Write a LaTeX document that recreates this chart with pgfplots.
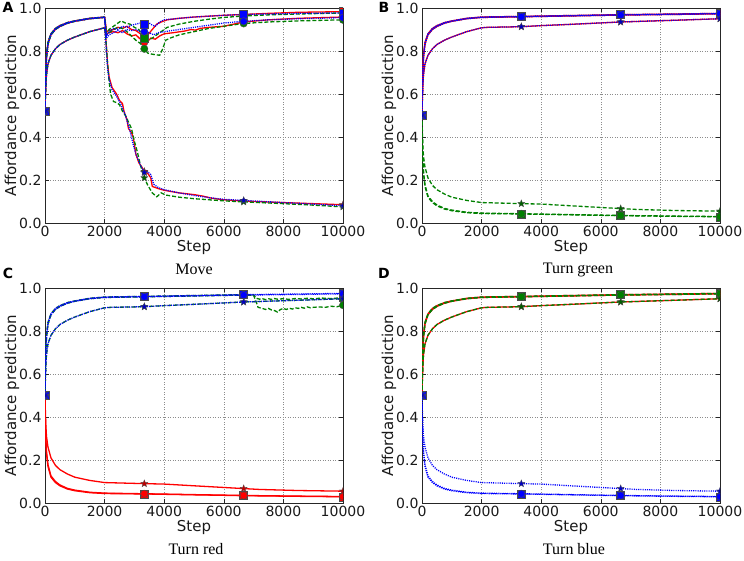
\documentclass[border=0pt]{standalone}
\usepackage{fontspec}
\setmainfont{DejaVu Sans}
\newfontfamily\titlefont{Liberation Serif}
\usepackage{pgfplots}
\usepackage{pgfplotstable}
\pgfplotsset{compat=1.18}
\definecolor{mred}{rgb}{1,0,0}
\definecolor{mgreen}{rgb}{0,0.5,0}
\definecolor{mblue}{rgb}{0,0,1}

\pgfdeclareplotmark{fstar}{%
  \pgfpathmoveto{\pgfpointpolar{90}{\pgfplotmarksize}}%
  \pgfpathlineto{\pgfpointpolar{126}{0.42\pgfplotmarksize}}%
  \pgfpathlineto{\pgfpointpolar{162}{\pgfplotmarksize}}%
  \pgfpathlineto{\pgfpointpolar{198}{0.42\pgfplotmarksize}}%
  \pgfpathlineto{\pgfpointpolar{234}{\pgfplotmarksize}}%
  \pgfpathlineto{\pgfpointpolar{270}{0.42\pgfplotmarksize}}%
  \pgfpathlineto{\pgfpointpolar{306}{\pgfplotmarksize}}%
  \pgfpathlineto{\pgfpointpolar{342}{0.42\pgfplotmarksize}}%
  \pgfpathlineto{\pgfpointpolar{18}{\pgfplotmarksize}}%
  \pgfpathlineto{\pgfpointpolar{54}{0.42\pgfplotmarksize}}%
  \pgfpathclose
  \pgfusepathqfillstroke
}

% ---------- generic curves (panels B, C, D) ----------
\pgfplotstableread{
x y
0 0.5
10 0.6
25 0.7
50 0.78
100 0.84
200 0.88
350 0.905
500 0.918
750 0.932
1000 0.94
1500 0.952
2000 0.958
3333 0.961
5000 0.965
6667 0.969
8500 0.972
10000 0.975
}\UPsq
\pgfplotstableread{
x y
0 0.5
10 0.59
25 0.69
50 0.77
100 0.832
200 0.875
350 0.9
500 0.914
750 0.929
1000 0.938
1500 0.95
2000 0.956
3333 0.959
5000 0.963
6667 0.967
8500 0.97
10000 0.973
}\UPci
\pgfplotstableread{
x y
0 0.5
10 0.56
25 0.63
50 0.69
100 0.74
200 0.78
350 0.81
500 0.83
750 0.85
1000 0.865
1500 0.89
2000 0.908
2200 0.91
3333 0.913
4000 0.918
5000 0.924
6667 0.935
8500 0.943
10000 0.95
}\UPst
\pgfplotstableread{
x y
0 0.5
10 0.4
25 0.3
50 0.23
100 0.17
200 0.12
350 0.095
500 0.08
750 0.065
1000 0.057
1500 0.048
2000 0.044
3333 0.042
5000 0.038
6667 0.034
8500 0.031
10000 0.029
}\DNsq
\pgfplotstableread{
x y
0 0.5
10 0.41
25 0.31
50 0.24
100 0.178
200 0.126
350 0.1
500 0.084
750 0.068
1000 0.06
1500 0.05
2000 0.046
3333 0.043
5000 0.039
6667 0.035
8500 0.032
10000 0.03
}\DNci
\pgfplotstableread{
x y
0 0.5
10 0.44
25 0.37
50 0.31
100 0.26
200 0.21
350 0.175
500 0.155
750 0.135
1000 0.12
1500 0.105
2000 0.095
3333 0.09
4000 0.088
5000 0.08
6667 0.067
7200 0.063
8500 0.058
10000 0.055
}\DNst
% green curves in panel C
\pgfplotstableread{
x y
0 0.5
10 0.6
25 0.7
50 0.78
100 0.84
200 0.88
350 0.905
500 0.918
750 0.932
1000 0.94
1500 0.952
2000 0.958
3333 0.961
5000 0.965
6667 0.969
7000 0.968
7100 0.952
7200 0.948
7300 0.95
7400 0.946
7500 0.95
7600 0.947
7700 0.951
7800 0.948
8000 0.95
8200 0.947
8400 0.951
8600 0.949
8800 0.952
9000 0.95
9300 0.953
9600 0.951
10000 0.955
}\GCsq
\pgfplotstableread{
x y
0 0.5
10 0.59
25 0.69
50 0.77
100 0.832
200 0.875
350 0.9
500 0.914
750 0.929
1000 0.938
1500 0.95
2000 0.956
3333 0.959
5000 0.963
6667 0.967
7000 0.966
7100 0.93
7150 0.91
7300 0.905
7400 0.9
7500 0.905
7600 0.898
7700 0.895
7800 0.888
7900 0.9
8000 0.905
8100 0.9
8200 0.906
8300 0.902
8400 0.908
8500 0.905
8600 0.91
8700 0.906
8800 0.912
8900 0.908
9000 0.91
9200 0.912
9400 0.91
9600 0.915
9800 0.913
10000 0.92
}\GCci

% ---------- panel A curves ----------
\pgfplotstableread{
x y
0 0.52
10 0.61
25 0.7
50 0.78
100 0.84
200 0.88
350 0.905
500 0.918
750 0.932
1000 0.94
1500 0.952
2000 0.958
2030 0.93
2060 0.89
2150 0.895
2300 0.9
2450 0.91
2600 0.905
2750 0.915
2900 0.9
3050 0.895
3200 0.88
3333 0.865
3450 0.875
3600 0.9
3750 0.925
3900 0.935
4100 0.945
4500 0.952
5000 0.958
5500 0.962
6000 0.966
6667 0.97
7500 0.975
8500 0.98
10000 0.983
}\ARsq
\pgfplotstableread{
x y
0 0.52
10 0.6
25 0.69
50 0.77
100 0.832
200 0.875
350 0.9
500 0.914
750 0.929
1000 0.938
1500 0.95
2000 0.956
2030 0.92
2060 0.88
2150 0.885
2300 0.89
2450 0.885
2600 0.895
2750 0.88
2900 0.87
3050 0.875
3200 0.855
3333 0.84
3450 0.845
3550 0.86
3700 0.855
3850 0.87
4000 0.88
4300 0.885
4700 0.893
4900 0.9
5050 0.897
5200 0.905
5500 0.91
6000 0.915
6667 0.935
7500 0.945
8500 0.952
10000 0.958
}\ARci
\pgfplotstableread{
x y
0 0.52
10 0.57
25 0.63
50 0.69
100 0.74
200 0.78
350 0.81
500 0.83
750 0.85
1000 0.865
1500 0.89
2000 0.908
2030 0.88
2060 0.82
2100 0.74
2150 0.68
2250 0.63
2400 0.6
2500 0.57
2600 0.555
2650 0.52
2750 0.48
2800 0.44
2900 0.42
2960 0.4
3050 0.32
3150 0.28
3250 0.26
3333 0.24
3450 0.23
3550 0.21
3600 0.17
3800 0.16
4000 0.152
4500 0.14
5000 0.132
5300 0.125
5600 0.115
6000 0.108
6667 0.102
8000 0.095
9000 0.09
10000 0.085
}\ARst
\pgfplotstableread{
x y
0 0.52
10 0.61
25 0.7
50 0.78
100 0.84
200 0.88
350 0.905
500 0.918
750 0.932
1000 0.94
1500 0.952
2000 0.958
2030 0.92
2060 0.88
2150 0.9
2300 0.915
2450 0.93
2550 0.94
2700 0.93
2850 0.925
3000 0.91
3150 0.9
3250 0.875
3333 0.86
3450 0.85
3600 0.86
3750 0.875
3900 0.89
4100 0.91
4500 0.925
5000 0.938
5500 0.948
6000 0.956
6667 0.963
7500 0.968
8500 0.972
10000 0.977
}\AGsq
\pgfplotstableread{
x y
0 0.52
10 0.6
25 0.69
50 0.77
100 0.832
200 0.875
350 0.9
500 0.914
750 0.929
1000 0.938
1500 0.95
2000 0.956
2030 0.92
2060 0.875
2150 0.885
2300 0.9
2450 0.91
2600 0.905
2750 0.89
2900 0.87
3050 0.85
3200 0.835
3333 0.81
3450 0.79
3600 0.785
3750 0.782
3850 0.78
3950 0.81
4050 0.85
4200 0.86
4500 0.875
5000 0.89
5500 0.905
6000 0.915
6667 0.928
7500 0.935
8500 0.94
10000 0.945
}\AGci
\pgfplotstableread{
x y
0 0.52
10 0.57
25 0.63
50 0.69
100 0.74
200 0.78
350 0.81
500 0.83
750 0.85
1000 0.865
1500 0.89
2000 0.908
2030 0.88
2060 0.82
2100 0.74
2150 0.66
2200 0.6
2300 0.565
2400 0.56
2500 0.55
2600 0.52
2700 0.5
2800 0.47
2900 0.44
3000 0.38
3100 0.33
3200 0.27
3333 0.21
3450 0.175
3600 0.14
3750 0.122
3900 0.14
4050 0.13
4500 0.12
5000 0.113
5500 0.108
6000 0.103
6667 0.098
8000 0.09
9000 0.083
10000 0.075
}\AGst
\pgfplotstableread{
x y
0 0.52
10 0.61
25 0.7
50 0.78
100 0.84
200 0.88
350 0.905
500 0.918
750 0.932
1000 0.94
1500 0.952
2000 0.958
2030 0.91
2060 0.87
2150 0.89
2300 0.905
2450 0.9
2600 0.915
2750 0.91
2900 0.92
3050 0.925
3200 0.93
3333 0.925
3450 0.935
3600 0.92
3700 0.915
3850 0.935
4000 0.945
4500 0.952
5000 0.958
5500 0.962
6000 0.966
6667 0.97
7500 0.972
8500 0.975
10000 0.977
}\ABsq
\pgfplotstableread{
x y
0 0.52
10 0.6
25 0.69
50 0.77
100 0.832
200 0.875
350 0.9
500 0.914
750 0.929
1000 0.938
1500 0.95
2000 0.956
2030 0.9
2060 0.86
2150 0.875
2300 0.885
2450 0.895
2600 0.885
2750 0.9
2900 0.895
3050 0.9
3200 0.89
3333 0.89
3500 0.885
3650 0.875
3800 0.885
4000 0.89
4500 0.9
5000 0.91
5500 0.92
6000 0.93
6667 0.938
7500 0.945
8500 0.95
10000 0.955
}\ABci
\pgfplotstableread{
x y
0 0.52
10 0.57
25 0.63
50 0.69
100 0.74
200 0.78
350 0.81
500 0.83
750 0.85
1000 0.865
1500 0.89
2000 0.908
2030 0.87
2060 0.8
2100 0.72
2150 0.67
2250 0.62
2400 0.59
2550 0.55
2700 0.5
2850 0.43
2950 0.37
3050 0.32
3200 0.27
3333 0.235
3450 0.238
3550 0.225
3650 0.18
3800 0.165
4000 0.155
4500 0.14
5000 0.128
5500 0.118
6000 0.11
6667 0.105
8000 0.095
9000 0.088
10000 0.08
}\ABst

\pgfplotsset{
  panel/.style={
    scale only axis, width=298pt, height=215pt, anchor=south west,
    xmin=0, xmax=10000, ymin=0, ymax=1,
    xtick={0,2000,4000,6000,8000,10000},
    ytick={0,0.2,0.4,0.6,0.8,1.0},
    scaled x ticks=false,
    xticklabel style={/pgf/number format/1000 sep={}},
    yticklabel style={/pgf/number format/fixed, /pgf/number format/fixed zerofill, /pgf/number format/precision=1},
    /pgf/number format/assume math mode=true,
    tick label style={font=\fontsize{14}{15}\selectfont, text=black!90},
    xlabel={Step}, ylabel={Affordance prediction},
    label style={font=\fontsize{15}{17}\selectfont, text=black!90},
    xlabel style={at={(axis description cs:0.5,-0.116)}, anchor=center},
    ylabel style={at={(axis description cs:-0.111,0.5)}, anchor=center},
    grid=major,
    major grid style={black!45, dash pattern=on 1pt off 1.5pt, line width=0.5pt},
    axis line style={black!85, line width=0.8pt},
    tick align=inside, major tick length=4pt,
    tick style={black!85, line width=0.6pt},
    clip marker paths=true,
  },
  rl/.style={mred, solid, line width=1.3pt},
  gl/.style={mgreen, dash pattern=on 4pt off 2pt, line width=1.3pt},
  bl/.style={mblue, dash pattern=on 1.1pt off 1.1pt, line width=1.3pt},
  msq/.style={only marks, mark=square*, mark size=4pt, mark options={solid, fill=#1, draw=black!70, line width=0.4pt}},
  mci/.style={only marks, mark=*, mark size=3.7pt, mark options={solid, fill=#1, draw=black!70, line width=0.4pt}},
  mst/.style={only marks, mark=fstar, mark size=3.8pt, mark options={solid, fill=#1!75!black, draw=black!70, line width=0.3pt}},
}

% line style, table, mark style, marker y at 0, 3333, 6667, 10000
\newcommand{\ser}[7]{%
  \addplot[#1] table {#2};
  \addplot[#3] coordinates {(0,#4) (3333,#5) (6667,#6) (10000,#7)};
}

\begin{document}
\begin{tikzpicture}
\path[use as bounding box] (0,0) rectangle (744pt,561pt);

% ---------------- A : Move ----------------
\begin{axis}[panel, at={(45pt,338pt)}]
\ser{rl}{\ARsq}{msq=mred}{0.52}{0.865}{0.97}{0.983}
\ser{rl}{\ARci}{mci=mred}{0.52}{0.84}{0.935}{0.958}
\ser{rl}{\ARst}{mst=mred}{0.52}{0.24}{0.102}{0.085}
\ser{gl}{\AGsq}{msq=mgreen}{0.52}{0.86}{0.963}{0.977}
\ser{gl}{\AGci}{mci=mgreen}{0.52}{0.81}{0.928}{0.945}
\ser{gl}{\AGst}{mst=mgreen}{0.52}{0.21}{0.098}{0.075}
\ser{bl}{\ABsq}{msq=mblue}{0.52}{0.925}{0.97}{0.977}
\ser{bl}{\ABci}{mci=mblue}{0.52}{0.89}{0.938}{0.955}
\ser{bl}{\ABst}{mst=mblue}{0.52}{0.235}{0.105}{0.08}
\end{axis}

% ---------------- B : Turn green ----------------
\begin{axis}[panel, at={(422pt,338pt)}]
\ser{rl}{\UPsq}{msq=mred}{0.5}{0.961}{0.969}{0.975}
\ser{rl}{\UPci}{mci=mred}{0.5}{0.959}{0.967}{0.973}
\ser{rl}{\UPst}{mst=mred}{0.5}{0.913}{0.935}{0.95}
\ser{gl}{\DNsq}{msq=mgreen}{0.5}{0.042}{0.034}{0.029}
\ser{gl}{\DNci}{mci=mgreen}{0.5}{0.043}{0.035}{0.03}
\ser{gl}{\DNst}{mst=mgreen}{0.5}{0.09}{0.067}{0.055}
\ser{bl}{\UPsq}{msq=mblue}{0.5}{0.961}{0.969}{0.975}
\ser{bl}{\UPci}{mci=mblue}{0.5}{0.959}{0.967}{0.973}
\ser{bl}{\UPst}{mst=mblue}{0.5}{0.913}{0.935}{0.95}
\end{axis}

% ---------------- C : Turn red ----------------
\begin{axis}[panel, at={(45pt,58pt)}]
\ser{rl}{\DNsq}{msq=mred}{0.5}{0.042}{0.034}{0.029}
\ser{rl}{\DNci}{mci=mred}{0.5}{0.043}{0.035}{0.03}
\ser{rl}{\DNst}{mst=mred}{0.5}{0.09}{0.067}{0.055}
\ser{gl}{\GCsq}{msq=mgreen}{0.5}{0.961}{0.969}{0.955}
\ser{gl}{\GCci}{mci=mgreen}{0.5}{0.959}{0.967}{0.92}
\ser{gl}{\UPst}{mst=mgreen}{0.5}{0.913}{0.935}{0.95}
\ser{bl}{\UPsq}{msq=mblue}{0.5}{0.961}{0.969}{0.975}
\ser{bl}{\UPci}{mci=mblue}{0.5}{0.959}{0.967}{0.973}
\ser{bl}{\UPst}{mst=mblue}{0.5}{0.913}{0.935}{0.95}
\end{axis}

% ---------------- D : Turn blue ----------------
\begin{axis}[panel, at={(422pt,58pt)}]
\ser{rl}{\UPsq}{msq=mred}{0.5}{0.961}{0.969}{0.975}
\ser{rl}{\UPci}{mci=mred}{0.5}{0.959}{0.967}{0.973}
\ser{rl}{\UPst}{mst=mred}{0.5}{0.913}{0.935}{0.95}
\ser{gl}{\UPsq}{msq=mgreen}{0.5}{0.961}{0.969}{0.975}
\ser{gl}{\UPci}{mci=mgreen}{0.5}{0.959}{0.967}{0.973}
\ser{gl}{\UPst}{mst=mgreen}{0.5}{0.913}{0.935}{0.95}
\ser{bl}{\DNsq}{msq=mblue}{0.5}{0.042}{0.034}{0.029}
\ser{bl}{\DNci}{mci=mblue}{0.5}{0.043}{0.035}{0.03}
\ser{bl}{\DNst}{mst=mblue}{0.5}{0.09}{0.067}{0.055}
\end{axis}

% titles and panel letters
\begin{scope}[every node/.style={font=\titlefont\fontsize{16}{18}\selectfont}]
\node at (194pt,291.5pt) {Move};
\node at (578pt,291.5pt) {Turn green};
\node at (196pt,11.5pt) {Turn red};
\node at (574pt,11.5pt) {Turn blue};
\end{scope}
\begin{scope}[every node/.style={font=\bfseries\fontsize{14}{16}\selectfont}]
\node at (8pt,554pt) {A};
\node at (384pt,554pt) {B};
\node at (8pt,288pt) {C};
\node at (384pt,288pt) {D};
\end{scope}
\end{tikzpicture}
\end{document}
